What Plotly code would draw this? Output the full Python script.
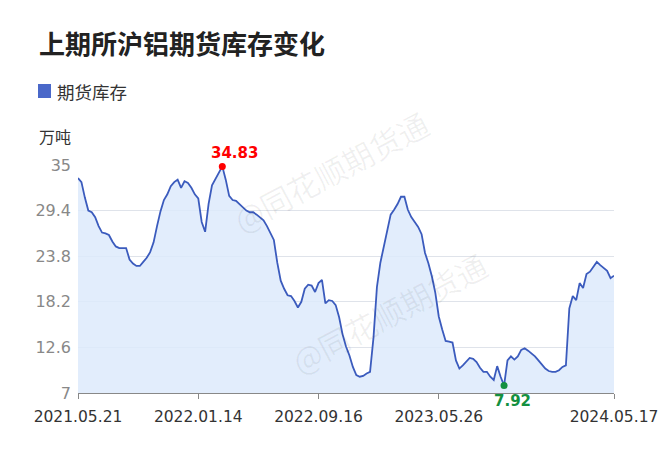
import plotly.graph_objects as go
import numpy as np

title = "上期所沪铝期货库存变化"
series_name = "期货库存"
unit = "万吨"

# weekly inventory (万吨), 2021.05.21 – 2024.05.17
values = [
    33.4, 32.9, 31.0, 29.4, 29.2, 28.6, 27.5, 26.7, 26.6, 26.4,
    25.6, 25.0, 24.8, 24.8, 24.8, 23.4, 22.9, 22.6, 22.6, 23.1,
    23.6, 24.3, 25.5, 27.5, 29.3, 30.7, 31.4, 32.4, 32.9, 33.2,
    32.2, 33.0, 32.8, 32.2, 31.4, 30.9, 28.0, 26.8, 30.2, 32.5,
    33.3, 34.1, 34.83, 33.2, 31.2, 30.7, 30.6, 30.2, 29.8, 29.4,
    29.2, 29.2, 28.9, 28.6, 28.2, 27.5, 26.7, 25.8, 23.0, 20.8,
    19.8, 19.0, 18.9, 18.3, 17.5, 18.2, 19.8, 20.3, 20.2, 19.4,
    20.5, 20.9, 18.0, 18.4, 18.3, 17.8, 16.3, 14.2, 12.7, 11.6,
    10.2, 9.2, 9.0, 9.1, 9.4, 9.6, 13.8, 20.0, 23.0, 24.9,
    27.0, 28.9, 29.5, 30.2, 31.1, 31.1, 29.5, 28.6, 28.0, 27.4,
    26.5, 24.2, 22.9, 21.3, 19.3, 16.4, 14.8, 13.4, 13.3, 13.2,
    11.0, 10.0, 10.4, 10.9, 11.3, 11.2, 10.8, 10.1, 9.6, 9.6,
    9.0, 8.6, 10.3, 9.0, 7.92, 11.0, 11.5, 11.1, 11.5, 12.3,
    12.5, 12.2, 11.9, 11.5, 11.0, 10.5, 10.0, 9.7, 9.6, 9.6,
    9.8, 10.2, 10.4, 17.4, 18.9, 18.4, 20.5, 19.9, 21.6, 21.9,
    22.5, 23.1, 22.7, 22.4, 22.0, 21.1, 21.4,
]
tick_labels = ["2021.05.21", "2022.01.14", "2022.09.16", "2023.05.26", "2024.05.17"]
tick_index = [0, 35, 70, 105, len(values) - 1]
y_ticks = [7, 12.6, 18.2, 23.8, 29.4, 35]
y_tick_text = ["7", "12.6", "18.2", "23.8", "29.4", "35"]

x = list(range(len(values)))
imax = int(np.argmax(values))
imin = int(np.argmin(values))

CJK = "Noto Sans CJK SC"
fig = go.Figure()
fig.add_trace(go.Scatter(
    x=x, y=values, mode="lines", fill="tozeroy",
    fillcolor="rgba(221,234,252,0.85)",
    line=dict(color="#3b5bbd", width=1.8),
    showlegend=False, hoverinfo="skip",
))
fig.add_trace(go.Scatter(x=[x[imax]], y=[values[imax]], mode="markers", cliponaxis=False,
                         marker=dict(color="#ff0000", size=7), showlegend=False))
fig.add_trace(go.Scatter(x=[x[imin]], y=[values[imin]], mode="markers", cliponaxis=False,
                         marker=dict(color="#149040", size=7), showlegend=False))

fig.add_annotation(x=x[imax], y=values[imax], text=f"<b>{values[imax]:.2f}</b>",
                   showarrow=False, yshift=13, xshift=12,
                   font=dict(family="DejaVu Sans", size=15, color="#ff0000"))
fig.add_annotation(x=x[imin], y=values[imin], text=f"<b>{values[imin]:.2f}</b>",
                   showarrow=False, yshift=-15, xshift=8,
                   font=dict(family="DejaVu Sans", size=15, color="#149040"))

# title, legend, unit (paper coords relative to the 536x228 plot area)
fig.add_annotation(xref="paper", yref="paper", x=(37 - 78) / 536, y=(393 - 42) / 228,
                   xanchor="left", yanchor="middle", showarrow=False,
                   text=f"<b>{title}</b>", font=dict(family=CJK, size=26, color="#222222"))
fig.add_shape(type="rect", xref="paper", yref="paper",
              x0=(38 - 78) / 536, x1=(51 - 78) / 536,
              y0=(393 - 98) / 228, y1=(393 - 84) / 228,
              fillcolor="#4a68c9", line=dict(width=0))
fig.add_annotation(xref="paper", yref="paper", x=(55 - 78) / 536, y=(393 - 91) / 228,
                   xanchor="left", yanchor="middle", showarrow=False,
                   text=series_name, font=dict(family=CJK, size=17.5, color="#333333"))
fig.add_annotation(xref="paper", yref="paper", x=(37 - 78) / 536, y=(393 - 136) / 228,
                   xanchor="left", yanchor="middle", showarrow=False,
                   text=unit, font=dict(family=CJK, size=16, color="#333333"))

# watermark
for cx, cy in [(330, 98), (497, 312)]:
    fig.add_annotation(xref="paper", yref="paper", x=(cx - 78) / 536, y=(393 - cy) / 228,
                       showarrow=False, text="@同花顺期货通", textangle=-28,
                       font=dict(family=CJK, size=31, color="rgba(0,0,0,0.06)"))

fig.update_xaxes(
    range=[0, len(values) - 1], tickmode="array", tickvals=tick_index, ticktext=tick_labels,
    showgrid=False, showline=True, linecolor="#888888", linewidth=1,
    ticks="outside", ticklen=5, tickcolor="#888888", zeroline=False,
    tickfont=dict(family="DejaVu Sans", size=15.5, color="#333333"),
    ticklabeloverflow="allow", ticklabelstandoff=4,
)
fig.update_yaxes(
    range=[7, 35], tickmode="array", tickvals=y_ticks, ticktext=y_tick_text,
    showgrid=True, gridcolor="#dfe3ea", gridwidth=1, zeroline=False, showline=False,
    tickfont=dict(family="DejaVu Sans", size=16, color="#888888"),
    ticklabelstandoff=6,
)
fig.update_layout(
    width=660, height=449, margin=dict(l=78, r=46, t=165, b=56, autoexpand=False),
    plot_bgcolor="white", paper_bgcolor="white", showlegend=False,
)
# remove the default 8px page margin so the 660x449 figure fills the window exactly
fig.write_html("out.html", config={"displayModeBar": False},
               post_script="document.body.style.margin='0';document.body.style.overflow='hidden';")
